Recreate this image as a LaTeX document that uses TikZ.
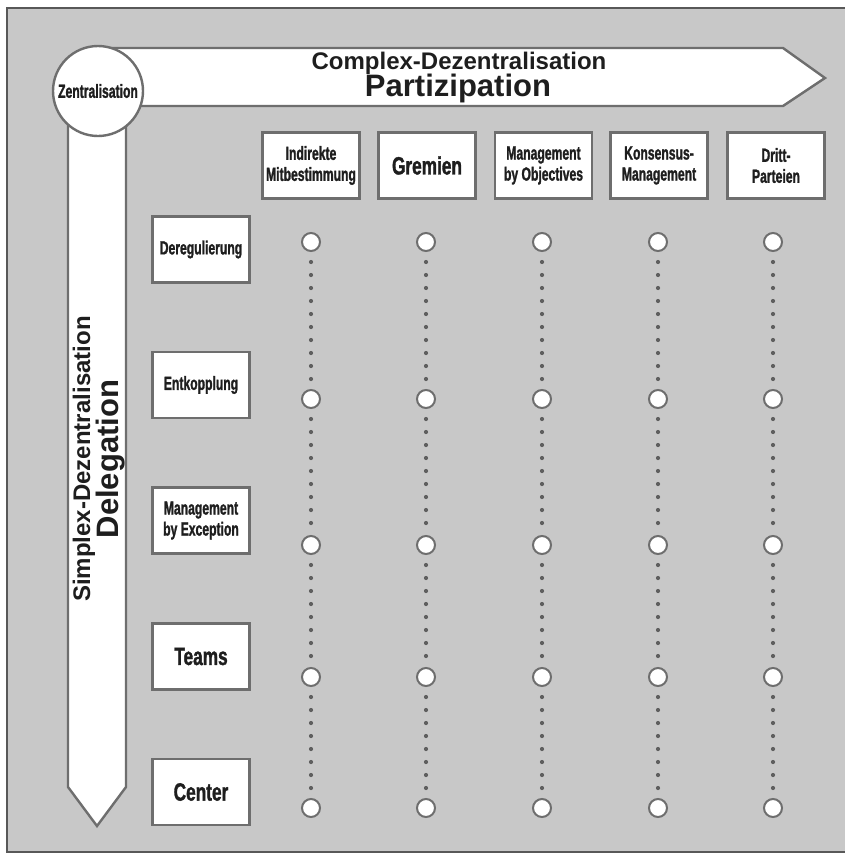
\documentclass[tikz,border=0pt]{standalone}
\usepackage{fontspec}
\setmainfont{Liberation Sans}
\newfontfamily\narrowsans[FakeStretch=0.64, BoldFeatures={FakeBold=1.3}]{Liberation Sans}
\newfontfamily\midsans[FakeStretch=0.69, BoldFeatures={FakeBold=1.3}]{Liberation Sans}
\usetikzlibrary{positioning}
\usepackage{xcolor}
\definecolor{paper}{RGB}{200,200,200}
\definecolor{frameline}{RGB}{88,88,88}
\definecolor{boxline}{RGB}{110,110,110}
\definecolor{dotgray}{RGB}{95,95,95}
\definecolor{ink}{RGB}{30,30,30}

\begin{document}
\begin{tikzpicture}[x=1pt, y=-1pt,
    field/.style={rectangle, draw=boxline, fill=white, line width=2.4pt,
                  minimum width=97pt, minimum height=66pt, inner sep=1pt,
                  align=center, text=ink},
    narrowlbl/.style={font=\narrowsans\bfseries\fontsize{19}{21}\selectfont},
    widelbl/.style={font=\midsans\bfseries\fontsize{25}{27}\selectfont},
    band/.style={draw=boxline, fill=white, line width=2.4pt, line join=miter},
    knot/.style={circle, draw=boxline, fill=white, line width=2pt,
                 minimum size=18pt, inner sep=0pt},
    trail/.style={draw=dotgray, line width=4.2pt, line cap=round,
                  dash pattern=on 0pt off 13pt, shorten <=10pt, shorten >=6pt},
]
\useasboundingbox (0,0) rectangle (844,857);

% ─── Frame ───────────────────────────────────────────────────────
\draw[fill=paper, draw=frameline, line width=2.2pt] (7,8) rectangle (856,852);

% ─── Two axes (arrows) ───────────────────────────────────────────
\draw[band] (97,48) -- (783,48) -- (825,78) -- (783,106) -- (97,106) -- cycle;
\draw[band] (68,91) -- (68,787) -- (97,826) -- (126,787) -- (126,91) -- cycle;

\node[circle, draw=boxline, fill=white, line width=2.4pt, minimum size=90pt,
      inner sep=0pt, text=ink, font=\narrowsans\bfseries\fontsize{19}{20}\selectfont]
  (zentral) at (98,91) {Zentralisation};

\node[font=\bfseries\fontsize{24}{26}\selectfont, text=ink, anchor=base]
  (cdz) at (459,69) {Complex-Dezentralisation};
\node[font=\bfseries\fontsize{31}{32}\selectfont, text=ink, anchor=base]
  (partiz) at (458,96) {Partizipation};

\node[font=\bfseries\fontsize{24}{26}\selectfont, text=ink, anchor=base,
      rotate=90] (sdz) at (90,459) {Simplex-Dezentralisation};
\node[font=\bfseries\fontsize{31}{32}\selectfont, text=ink, anchor=base,
      rotate=90] (deleg) at (118,459) {Delegation};

% ─── Columns (participation) ─────────────────────────────────────
\node[field, narrowlbl] (indirekt) at (311,165.5) {Indirekte\\Mitbestimmung};
\node[field, widelbl]   (gremien)  at (427,165.5) {Gremien};
\node[field, narrowlbl] (mbo)      at (543.5,165.5) {Management\\by Objectives};
\node[field, narrowlbl] (konsens)  at (659,165.5) {Konsensus-\\Management};
\node[field, narrowlbl] (dritt)    at (776,165.5) {Dritt-\\Parteien};

% ─── Rows (delegation) ───────────────────────────────────────────
\node[field, narrowlbl] (dereg)   at (201,249.5) {Deregulierung};
\node[field, narrowlbl] (entkopp) at (201,385)   {Entkopplung};
\node[field, narrowlbl] (mbe)     at (201,520.5) {Management\\by Exception};
\node[field, widelbl]   (teams)   at (201,656.5) {Teams};
\node[field, widelbl]   (center)  at (201,792)   {Center};

% ─── Grid of knots with dotted trails ────────────────────────────
\foreach \cx [count=\c] in {311,426,542,658,773} {
  \foreach \ry [count=\r] in {242,399,545,677,808} {
    \node[knot] (k-\c-\r) at (\cx,\ry) {};
  }
  \foreach \r [evaluate=\r as \s using int(\r+1)] in {1,...,4} {
    \draw[trail] (k-\c-\r.south) -- (k-\c-\s.north);
  }
}

\end{tikzpicture}
\end{document}
